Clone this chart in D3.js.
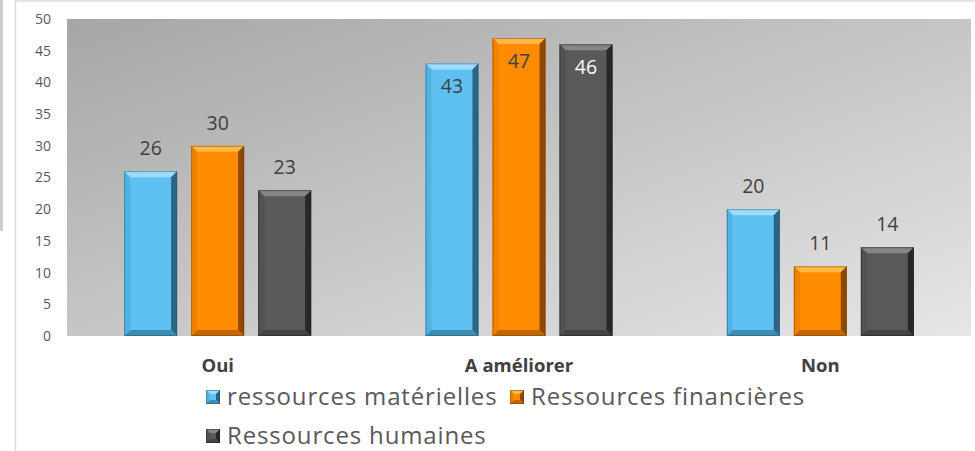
<!DOCTYPE html>
<html>
<head>
<meta charset="utf-8">
<script src="https://cdn.jsdelivr.net/npm/d3@7/dist/d3.min.js"></script>
<style>
  html, body { margin: 0; padding: 0; background: #fff; }
  svg { display: block; font-family: "Open Sans", "DejaVu Sans", sans-serif; }
</style>
</head>
<body>
<svg id="chart" width="975" height="451"></svg>
<script>
const categories = ["Oui", "A améliorer", "Non"];
const seriesNames = ["ressources matérielles", "Ressources financières", "Ressources humaines"];
const materielles = [26, 43, 20];
const financieres = [30, 47, 11];
const humaines = [23, 46, 14];
const yTicks = [0, 5, 10, 15, 20, 25, 30, 35, 40, 45, 50];

const seriesValues = [materielles, financieres, humaines];
const palette = [
  { base: "#5ec1f2", light: "#9fdcfb", dark: "#3f8cb5", darker: "#1f4d66", side: "#52b3e3", text: "#404040" },
  { base: "#ff8c00", light: "#ffb84a", dark: "#c26800", darker: "#6e3a00", side: "#f08200", text: "#404040" },
  { base: "#595959", light: "#868686", dark: "#444444", darker: "#1c1c1c", side: "#525252", text: "#ffffff" }
];

const svg = d3.select("#chart");
const W = 975, H = 451;
const plot = { left: 67, right: 971, top: 19, bottom: 336 };

// frame decorations
svg.append("rect").attr("x", 0).attr("y", 0).attr("width", 3).attr("height", 231).attr("fill", "#cdcdcd");
svg.append("line").attr("x1", 15.5).attr("x2", 15.5).attr("y1", 0).attr("y2", H).attr("stroke", "#dcdcdc").attr("stroke-width", 1.5);
svg.append("line").attr("x1", 15).attr("x2", W).attr("y1", 1).attr("y2", 1).attr("stroke", "#dcdcdc").attr("stroke-width", 1.5);

const defs = svg.append("defs");
const bg = defs.append("linearGradient").attr("id", "bg")
  .attr("x1", "0").attr("y1", "0").attr("x2", "1").attr("y2", "1");
bg.append("stop").attr("offset", "0").attr("stop-color", "#a6a6a6");
bg.append("stop").attr("offset", "1").attr("stop-color", "#e6e6e6");

svg.append("rect")
  .attr("x", plot.left).attr("y", plot.top)
  .attr("width", plot.right - plot.left).attr("height", plot.bottom - plot.top)
  .attr("fill", "url(#bg)");

const x0 = d3.scaleBand().domain(categories).range([plot.left, plot.right]).padding(0);
const groupW = 187;
const x1 = d3.scaleBand().domain(d3.range(seriesNames.length)).range([0, groupW]).paddingInner(0.21);
const y = d3.scaleLinear().domain([0, 50]).range([plot.bottom, plot.top]);

// y axis
const yAxis = d3.axisLeft(y).tickValues(yTicks).tickSize(0).tickPadding(0);
const gy = svg.append("g").attr("transform", `translate(${plot.left - 16},0)`).call(yAxis);
gy.select(".domain").remove();
gy.selectAll("text").attr("fill", "#595959").style("font-size", "14px")
  .style("font-family", "'Open Sans', sans-serif");

// x axis labels
const xAxis = d3.axisBottom(x0).tickSize(0).tickPadding(0);
const gx = svg.append("g").attr("transform", `translate(0,${plot.bottom + 23})`).call(xAxis);
gx.select(".domain").remove();
gx.selectAll("text").attr("fill", "#404040").style("font-size", "18.5px").style("font-weight", "bold")
  .style("font-family", "'Open Sans', sans-serif");

function bevelBar(g, bx, by, bw, bh, c, b) {
  const x0_ = bx, x1_ = bx + bw, y0_ = by, y1_ = by + bh;
  const bb = Math.min(b, bh / 2, bw / 2);
  g.append("rect").attr("x", x0_).attr("y", y0_).attr("width", bw).attr("height", bh).attr("fill", c.base);
  const poly = (pts, fill, op) => g.append("polygon").attr("points", pts.map(p => p.join(",")).join(" "))
    .attr("fill", fill).attr("opacity", op == null ? 1 : op);
  poly([[x0_, y0_], [x1_, y0_], [x1_ - bb, y0_ + bb], [x0_ + bb, y0_ + bb]], c.light);
  poly([[x0_, y0_], [x0_ + bb, y0_ + bb], [x0_ + bb, y1_ - bb], [x0_, y1_]], c.side);
  poly([[x1_, y0_], [x1_, y1_], [x1_ - bb, y1_ - bb], [x1_ - bb, y0_ + bb]], c.darker, 0.8);
  poly([[x0_, y1_], [x1_, y1_], [x1_ - bb, y1_ - bb], [x0_ + bb, y1_ - bb]], c.dark);
  g.append("rect").attr("x", x0_ + 0.5).attr("y", y0_ + 0.5).attr("width", bw - 1).attr("height", bh - 1)
    .attr("fill", "none").attr("stroke", c.darker).attr("stroke-opacity", 0.45).attr("stroke-width", 1);
}

const bars = svg.append("g");
categories.forEach((cat, ci) => {
  const gxOff = x0(cat) + (x0.bandwidth() - groupW) / 2;
  seriesValues.forEach((vals, si) => {
    const v = vals[ci];
    const bx = gxOff + x1(si);
    const bw = x1.bandwidth();
    const by = y(v);
    const bh = y(0) - y(v);
    const g = bars.append("g");
    bevelBar(g, bx, by, bw, bh, palette[si], 6);
    const inside = v > 40;
    g.append("text")
      .attr("x", bx + bw / 2)
      .attr("y", inside ? by + 23 : by - 23)
      .attr("dy", "0.35em")
      .attr("text-anchor", "middle")
      .attr("fill", inside ? palette[si].text : "#404040")
      .style("font-size", "19.5px")
      .text(v);
  });
});

// legend
const legendItems = [
  { i: 0, x: 206, y: 405 },
  { i: 1, x: 510, y: 405 },
  { i: 2, x: 206, y: 444 }
];
const lg = svg.append("g");
legendItems.forEach(it => {
  const g = lg.append("g");
  bevelBar(g, it.x, it.y - 15, 14, 14, palette[it.i], 4);
  g.append("text").attr("x", it.x + 21).attr("y", it.y)
    .attr("fill", "#595959").style("font-size", "24px").style("letter-spacing", "0.85px")
    .text(seriesNames[it.i]);
});
</script>
</body>
</html>
